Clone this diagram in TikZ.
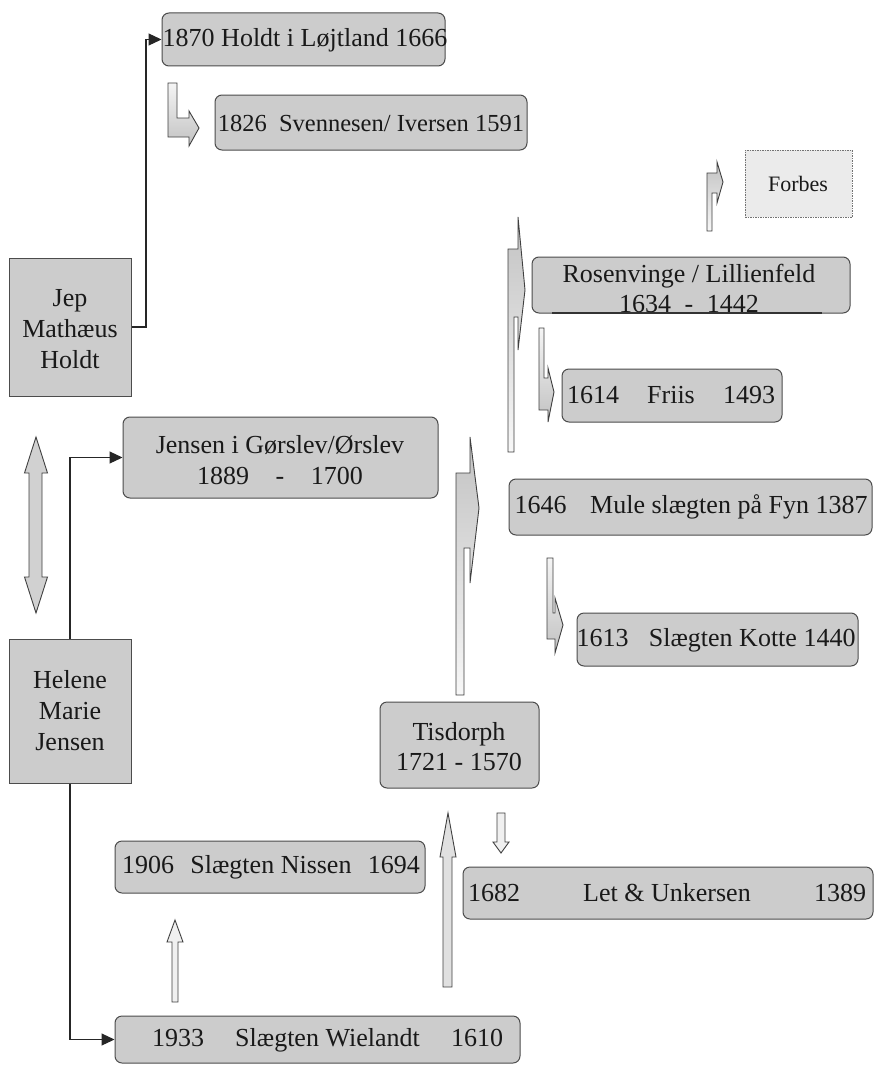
\documentclass[tikz,border=0pt]{standalone}
\usepackage{fontspec}
\setmainfont{Liberation Serif}
\usetikzlibrary{arrows.meta}
\begin{document}
\begin{tikzpicture}[x=1pt,y=-1pt,
 box/.style={draw=black!70, fill=black!20, rounded corners=7pt, line width=1pt, inner sep=0pt},
 sqbox/.style={draw=black!70, fill=black!20, line width=1pt, inner sep=0pt},
 dotbox/.style={draw=black!55, fill=black!8, line width=1pt, dash pattern=on 1.5pt off 1pt, inner sep=0pt},
 txt/.style={font=\fontsize{26}{31}\selectfont, align=center, inner sep=0pt, text=black!90},
 conn/.style={draw=black!85, line width=1.1pt, -{Triangle[length=13pt,width=12pt]}},
 blockarrow/.style={draw=black!75, fill=black!18, line width=0.9pt, line join=miter},
 headup/.style={draw=black!75, top color=black!24, bottom color=black!3, line width=0.9pt, line join=miter},
 headdown/.style={draw=black!75, top color=black!4, bottom color=black!24, line width=0.9pt, line join=miter},
 lightarrow/.style={draw=black!75, fill=black!6, line width=0.9pt, line join=miter}]
\useasboundingbox (0,0) rectangle (875,1065);
\fill[white] (0,0) rectangle (875,1065);

% boxes
\node[box, minimum width=283pt, minimum height=53pt] (holdt) at (303.5,39.5) {};
\node[box, minimum width=312pt, minimum height=55pt] (svenn) at (371,122.5) {};
\node[sqbox, minimum width=122pt, minimum height=138pt] (jep) at (70,327) {};
\node[sqbox, minimum width=122pt, minimum height=144pt] (helene) at (70,711) {};
\node[box, minimum width=315pt, minimum height=81pt] (jensen) at (280.5,457.5) {};
\node[dotbox, minimum width=107pt, minimum height=67pt] (forbes) at (798.5,183.5) {};
\node[box, minimum width=318pt, minimum height=56pt] (rosen) at (691,285) {};
\node[box, minimum width=220pt, minimum height=53pt] (friis) at (672,395.5) {};
\node[box, minimum width=363pt, minimum height=56pt] (mule) at (690.5,507) {};
\node[box, minimum width=281pt, minimum height=53pt] (kotte) at (717.5,639.5) {};
\node[box, minimum width=159pt, minimum height=86pt] (tis) at (459.5,745) {};
\node[box, minimum width=310pt, minimum height=52pt] (nissen) at (270,867) {};
\node[box, minimum width=410pt, minimum height=52pt] (let) at (668,893) {};
\node[box, minimum width=405pt, minimum height=47pt] (wiel) at (317.5,1039.5) {};

\draw[black!80, line width=1.2pt] (552,313) -- (822,313);

% texts
\node[txt] (holdt-t) at (305,40) {1870 Holdt i Løjtland 1666};
\node[txt, font=\fontsize{24.5}{30}\selectfont] (svenn-t) at (371,123) {1826\hspace{6pt} Svennesen/ Iversen 1591};
\node[txt] (jep-t) at (70,329) {Jep\\Mathæus\\Holdt};
\node[txt] (helene-t) at (70,711) {Helene\\Marie\\Jensen};
\node[txt] (jensen-t) at (280,460) {Jensen i Gørslev/Ørslev\\\makebox[166pt]{1889\hfill-\hfill 1700}};
\node[txt, font=\fontsize{22}{26}\selectfont] (forbes-t) at (798,184) {Forbes};
\node[txt, font=\fontsize{26}{30}\selectfont] (rosen-t) at (689,288) {Rosenvinge / Lillienfeld\\\makebox[140pt]{1634\hfill-\hfill 1442}};
\node[txt] (friis-t) at (671,395) {\makebox[208pt]{1614\hfill Friis\hfill 1493}};
\node[txt] (mule-t) at (691,507) {\makebox[353pt]{1646\hfill Mule slægten på Fyn 1387}};
\node[txt] (kotte-t) at (716,640) {\makebox[279pt]{1613\hfill Slægten Kotte 1440}};
\node[txt, font=\fontsize{26}{30}\selectfont] (tis-t) at (459,747) {Tisdorph\\1721 - 1570};
\node[txt] (nissen-t) at (271,867) {\makebox[298pt]{1906\hfill Slægten Nissen\hfill 1694}};
\node[txt] (let-t) at (667,893) {\makebox[398pt]{1682\hfill Let \& Unkersen\hfill 1389}};
\node[txt] (wiel-t) at (327.5,1040) {\makebox[351pt]{1933\hfill Slægten Wielandt\hfill 1610}};

% connectors
\coordinate (j1) at (146,327);
\draw[conn] (jep.east) -- (j1) |- (holdt.west);
\draw[conn] (helene.north) |- (jensen.west);
\draw[conn] (helene.south) |- (wiel.west);

% double block arrow
\draw[blockarrow] (36,437) -- (47.5,473) -- (42,473) -- (42,577) -- (47.5,577) -- (36,613)
  -- (24.5,577) -- (29,577) -- (29,473) -- (24.5,473) -- cycle;

% bent arrows
\draw[headdown] (168,83) -- (177,83) -- (177,118) -- (189,118) -- (189,111) -- (199,128)
  -- (189,146) -- (189,137) -- (168,137) -- cycle;
\draw[headup] (456,695) -- (456,473) -- (470,473) -- (470,437) -- (479,508) -- (470,583)
  -- (470,548) -- (464,548) -- (464,695) -- cycle;
\draw[headup] (508,452) -- (508,249) -- (518,249) -- (518,217) -- (525,290) -- (518,350)
  -- (518,317) -- (514,317) -- (514,452) -- cycle;
\draw[headdown] (539,328) -- (544,328) -- (544,378) -- (548,378) -- (548,368) -- (554,392)
  -- (548,422) -- (548,410) -- (539,410) -- cycle;
\draw[headdown] (547,558) -- (553,558) -- (553,613) -- (555,613) -- (555,598) -- (563,625)
  -- (555,653) -- (555,639) -- (547,639) -- cycle;
\draw[headup] (707,231) -- (707,173) -- (717,173) -- (717,162) -- (723,182) -- (717,203)
  -- (717,193) -- (712,193) -- (712,231) -- cycle;

% straight block arrows
\draw[lightarrow] (175,920) -- (183,942) -- (178,942) -- (178,1002) -- (172,1002) -- (172,942)
  -- (167,942) -- cycle;
\draw[blockarrow, fill=black!12] (448,813) -- (456,857) -- (452,857) -- (452,987) -- (443,987)
  -- (443,857) -- (440,857) -- cycle;
\draw[lightarrow] (497,813) -- (505,813) -- (505,842) -- (509,842) -- (501,853) -- (493,842)
  -- (497,842) -- cycle;
\end{tikzpicture}
\end{document}
